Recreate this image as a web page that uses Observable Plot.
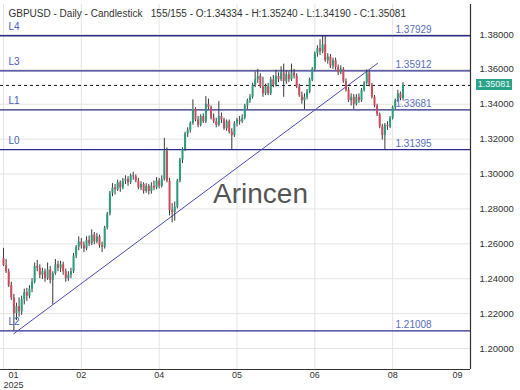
<!DOCTYPE html>
<html><head><meta charset="utf-8">
<script src="https://cdn.jsdelivr.net/npm/d3@7"></script>
<script src="https://cdn.jsdelivr.net/npm/@observablehq/plot@0.6"></script>
<style>
body{margin:0;background:#fff;font-family:"Liberation Sans",Arial,sans-serif;}
#wrap{position:relative;width:520px;height:390px;overflow:hidden;}
#pricebox{position:absolute;left:476px;width:36px;height:11px;background:#2ba38b;color:#eefaf6;font-size:9px;line-height:11px;text-align:center;}
</style></head><body><div id="wrap"></div>
<script>
const opens = [1.2516,1.2475,1.2440,1.2360,1.2290,1.2200,1.2240,1.2210,1.2280,1.2320,
1.2300,1.2340,1.2380,1.2470,1.2460,1.2420,1.2440,1.2400,1.2450,1.2390,
1.2430,1.2480,1.2460,1.2480,1.2440,1.2400,1.2420,1.2440,1.2530,1.2580,
1.2610,1.2590,1.2570,1.2620,1.2600,1.2650,1.2610,1.2640,1.2590,1.2580,
1.2690,1.2770,1.2890,1.2920,1.2910,1.2950,1.2920,1.2960,1.2970,1.2950,
1.2990,1.2985,1.2960,1.2920,1.2940,1.2900,1.2930,1.2900,1.2930,1.2920,
1.2960,1.2930,1.2970,1.3130,1.2960,1.2790,1.2780,1.2810,1.2960,1.3080,
1.3140,1.3230,1.3250,1.3290,1.3370,1.3310,1.3280,1.3330,1.3300,1.3400,
1.3380,1.3320,1.3300,1.3280,1.3330,1.3310,1.3260,1.3300,1.3240,1.3220,
1.3290,1.3310,1.3300,1.3320,1.3390,1.3420,1.3440,1.3510,1.3540,1.3560,
1.3500,1.3460,1.3500,1.3460,1.3540,1.3510,1.3560,1.3540,1.3580,1.3530,
1.3570,1.3540,1.3580,1.3560,1.3500,1.3450,1.3420,1.3440,1.3470,1.3540,
1.3600,1.3690,1.3720,1.3700,1.3740,1.3650,1.3670,1.3620,1.3650,1.3610,
1.3580,1.3600,1.3530,1.3480,1.3420,1.3440,1.3400,1.3440,1.3420,1.3480,
1.3520,1.3580,1.3510,1.3440,1.3390,1.3340,1.3270,1.3220,1.3280,1.3270,
1.3320,1.3380,1.3420,1.3460,1.34334];
const highs = [1.2574,1.2510,1.2455,1.2380,1.2310,1.2260,1.2290,1.2300,1.2340,1.2345,
1.2360,1.2400,1.2490,1.2505,1.2480,1.2460,1.2455,1.2490,1.2470,1.2440,
1.2510,1.2500,1.2500,1.2495,1.2455,1.2440,1.2460,1.2545,1.2590,1.2640,
1.2630,1.2610,1.2640,1.2645,1.2680,1.2665,1.2660,1.2650,1.2610,1.2700,
1.2780,1.2900,1.2945,1.2940,1.2965,1.2960,1.2975,1.2990,1.2985,1.3000,
1.3010,1.2995,1.2975,1.2955,1.2950,1.2945,1.2940,1.2950,1.2960,1.2980,
1.2975,1.2990,1.3205,1.3150,1.2975,1.2830,1.2840,1.2970,1.3090,1.3150,
1.3240,1.3265,1.3300,1.3425,1.3380,1.3330,1.3340,1.3345,1.3445,1.3430,
1.3390,1.3345,1.3320,1.3415,1.3350,1.3320,1.3310,1.3310,1.3260,1.3300,
1.3320,1.3330,1.3340,1.3400,1.3430,1.3455,1.3520,1.3585,1.3600,1.3575,
1.3555,1.3515,1.3520,1.3555,1.3565,1.3595,1.3580,1.3615,1.3630,1.3590,
1.3585,1.3630,1.3600,1.3575,1.3515,1.3470,1.3460,1.3485,1.3550,1.3610,
1.3700,1.3735,1.3770,1.3793,1.3790,1.3690,1.3685,1.3665,1.3665,1.3625,
1.3620,1.3610,1.3545,1.3495,1.3460,1.3455,1.3455,1.3460,1.3490,1.3530,
1.3597,1.3590,1.3520,1.3450,1.3400,1.3350,1.3285,1.3290,1.3300,1.3330,
1.3390,1.3430,1.3480,1.3470,1.35240];
const lows = [1.2470,1.2430,1.2350,1.2275,1.2100,1.2160,1.2180,1.2190,1.2250,1.2270,
1.2285,1.2320,1.2370,1.2440,1.2400,1.2395,1.2380,1.2390,1.2370,1.2250,
1.2420,1.2440,1.2435,1.2420,1.2380,1.2385,1.2400,1.2430,1.2515,1.2560,
1.2570,1.2550,1.2560,1.2585,1.2590,1.2595,1.2600,1.2575,1.2550,1.2570,
1.2680,1.2760,1.2870,1.2880,1.2900,1.2895,1.2910,1.2940,1.2930,1.2940,
1.2965,1.2950,1.2910,1.2905,1.2885,1.2890,1.2880,1.2885,1.2905,1.2910,
1.2915,1.2920,1.2960,1.2950,1.2760,1.2720,1.2730,1.2800,1.2950,1.3060,
1.3130,1.3210,1.3235,1.3280,1.3300,1.3265,1.3270,1.3290,1.3290,1.3370,
1.3310,1.3290,1.3265,1.3270,1.3290,1.3250,1.3245,1.3230,1.3140,1.3210,
1.3270,1.3280,1.3290,1.3310,1.3370,1.3405,1.3430,1.3495,1.3520,1.3490,
1.3440,1.3450,1.3450,1.3450,1.3495,1.3500,1.3525,1.3530,1.3440,1.3515,
1.3525,1.3530,1.3545,1.3490,1.3440,1.3400,1.3370,1.3425,1.3460,1.3530,
1.3590,1.3670,1.3680,1.3690,1.3640,1.3630,1.3605,1.3600,1.3595,1.3565,
1.3570,1.3520,1.3470,1.3410,1.3390,1.3370,1.3390,1.3405,1.3410,1.3470,
1.3510,1.3500,1.3430,1.3380,1.3330,1.3260,1.3195,1.31395,1.3250,1.3260,
1.3310,1.3370,1.3410,1.3420,1.34190];
const closes = [1.2475,1.2440,1.2360,1.2290,1.2200,1.2240,1.2210,1.2280,1.2320,1.2300,
1.2340,1.2380,1.2470,1.2460,1.2420,1.2440,1.2400,1.2450,1.2390,1.2430,
1.2480,1.2460,1.2480,1.2440,1.2400,1.2420,1.2440,1.2530,1.2580,1.2610,
1.2590,1.2570,1.2620,1.2600,1.2650,1.2610,1.2640,1.2590,1.2580,1.2690,
1.2770,1.2890,1.2920,1.2910,1.2950,1.2920,1.2960,1.2970,1.2950,1.2990,
1.2985,1.2960,1.2920,1.2940,1.2900,1.2930,1.2900,1.2930,1.2920,1.2960,
1.2930,1.2970,1.3130,1.2960,1.2790,1.2780,1.2810,1.2960,1.3080,1.3140,
1.3230,1.3250,1.3290,1.3370,1.3310,1.3280,1.3330,1.3300,1.3400,1.3380,
1.3320,1.3300,1.3280,1.3330,1.3310,1.3260,1.3300,1.3240,1.3220,1.3290,
1.3310,1.3300,1.3320,1.3390,1.3420,1.3440,1.3510,1.3540,1.3560,1.3500,
1.3460,1.3500,1.3460,1.3540,1.3510,1.3560,1.3540,1.3580,1.3530,1.3570,
1.3540,1.3580,1.3560,1.3500,1.3450,1.3420,1.3440,1.3470,1.3540,1.3600,
1.3690,1.3720,1.3700,1.3740,1.3650,1.3670,1.3620,1.3650,1.3610,1.3580,
1.3600,1.3530,1.3480,1.3420,1.3440,1.3400,1.3440,1.3420,1.3480,1.3520,
1.3580,1.3510,1.3440,1.3390,1.3340,1.3270,1.3220,1.3280,1.3270,1.3320,
1.3380,1.3420,1.3460,1.3433,1.35081];

const levelNames = ["L4","L3","L1","L0","L2"];
const levelValues = [1.37929,1.35912,1.33681,1.31395,1.21008];
const trendBars = [4, 144.2];
const trendPrices = [1.2085, 1.3635];
const xTickBars = [0,30,60,90,120,150,180];
const xTickLabels = ["01","02","04","05","06","08","09"];
const yearLabel = "2025";
const yTicks = [1.20,1.22,1.24,1.26,1.28,1.30,1.32,1.34,1.36,1.38];
const headerText = "GBPUSD - Daily - Candlestick\u00a0\u00a0\u00a0155/155 - O:1.34334 - H:1.35240 - L:1.34190 - C:1.35081";
const watermark = "Arincen";

const bars = opens.map((o,i)=>({i, open:o, high:highs[i], low:lows[i], close:closes[i]}));
const trend = trendBars.map((b,k)=>({x:b, y:trendPrices[k]}));
const lastClose = closes[closes.length-1];
const xt = xTickBars.map((b,k)=>({b, label:xTickLabels[k]}));
const GREEN = "#2a9d7f", RED = "#cf4b5b";

const plot = Plot.plot({
  width:520, height:390, marginTop:4, marginBottom:21, marginLeft:0, marginRight:50,
  style:{fontFamily:"Liberation Sans, Arial, sans-serif", fontSize:"10px", background:"#fff", color:"#333"},
  x:{domain:[-1.157,180], axis:null},
  y:{domain:[1.18796,1.39720], axis:null},
  marks:[
    Plot.ruleY(yTicks,{stroke:"#e4e4e4"}),
    Plot.ruleX(xTickBars,{stroke:"#e4e4e4"}),
    Plot.text([watermark],{frameAnchor:"middle", dx:25, dy:7, text:d=>d, fontSize:28, fill:"#555"}),
    Plot.ruleY(levelValues,{stroke:"#2b2b8c", strokeWidth:1.3}),
    Plot.line(trend,{x:"x", y:"y", stroke:"#4b4bb5", strokeWidth:1}),
    Plot.ruleY([lastClose],{stroke:"#111", strokeDasharray:"3,3"}),
    Plot.ruleX(bars,{x:"i", y1:"low", y2:"high", stroke:"#3a3a3a", strokeWidth:1}),
    Plot.ruleX(bars,{x:"i", y1:"open", y2:"close", stroke:d=>d.close>=d.open?GREEN:RED, strokeWidth:2}),
    Plot.text(levelValues,{y:d=>d, text:(d,i)=>levelNames[i], frameAnchor:"left", textAnchor:"start", dx:8, dy:-9, fill:"#4a5cc0", fontSize:10}),
    Plot.text(levelValues,{y:d=>d, text:d=>d.toFixed(5), frameAnchor:"right", textAnchor:"start", dx:-75, dy:-6, fill:"#5a6fc0", fontSize:10}),
    Plot.text(yTicks,{y:d=>d, text:d=>d.toFixed(5), frameAnchor:"right", textAnchor:"start", dx:9, fill:"#333", fontSize:9.5}),
    Plot.ruleX([xTickBars[xTickBars.length-1]],{stroke:"#333", strokeWidth:1.2}),
    Plot.ruleY([1.18796],{stroke:"#333", strokeWidth:1.2}),
    Plot.text(xt.slice(1,-1),{x:"b", text:"label", frameAnchor:"bottom", lineAnchor:"middle", dy:6, fill:"#333", fontSize:9}),
    Plot.text(xt.slice(0,1),{x:"b", text:"label", frameAnchor:"bottom", lineAnchor:"middle", dy:6, dx:10, fill:"#333", fontSize:9}),
    Plot.text(xt.slice(0,1),{x:"b", text:()=>yearLabel, frameAnchor:"bottom", lineAnchor:"middle", dy:15.5, dx:10, fill:"#333", fontSize:9}),
    Plot.text(xt.slice(-1),{x:"b", text:"label", frameAnchor:"bottom", lineAnchor:"middle", dy:6, dx:-13, fill:"#333", fontSize:9}),
    Plot.text([headerText],{frameAnchor:"top-left", text:d=>d, textAnchor:"start", lineAnchor:"middle", dx:8, dy:9, fill:"#333", fontSize:10})
  ]
});
const wrap = document.getElementById("wrap");
wrap.appendChild(plot);
const box = document.createElement("div");
box.id = "pricebox";
box.textContent = lastClose.toFixed(5);
box.style.top = (plot.scale("y").apply(lastClose) - 5.5) + "px";
wrap.appendChild(box);
</script>
</body></html>
